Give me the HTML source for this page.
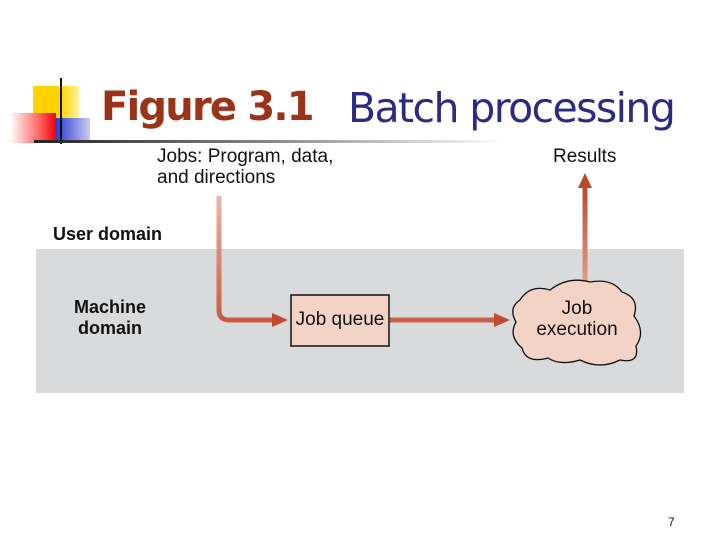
<!DOCTYPE html>
<html><head><meta charset="utf-8"><style>
body{margin:0;width:720px;height:540px;background:#fff;position:relative;overflow:hidden;font-family:"Liberation Sans",sans-serif}
.a{position:absolute}
</style></head><body>
<div class="a" style="left:33px;top:86px;width:46px;height:46px;background:linear-gradient(90deg,#ffd200 60%,#fff3a0)"></div>
<div class="a" style="left:56px;top:118px;width:34px;height:24px;background:linear-gradient(90deg,#2a3ad0,#c8ccf0)"></div>
<div class="a" style="left:10px;top:113px;width:46px;height:30px;background:linear-gradient(90deg,#fff,#f55 70%,#e00)"></div>
<div class="a" style="left:60px;top:78px;width:2px;height:66px;background:#111"></div>
<div class="a" style="left:34px;top:140px;width:470px;height:3px;background:linear-gradient(90deg,#222,#888 50%,#fff)"></div>
<div class="a" style="left:101px;top:84px;font:bold 40px 'DejaVu Sans',sans-serif;color:#9a3418;letter-spacing:-1.8px;white-space:nowrap">Figure 3.1</div>
<div class="a" style="left:348px;top:84px;font:41px 'DejaVu Sans',sans-serif;color:#2b2b86;letter-spacing:-1.6px;white-space:nowrap">Batch processing</div>
<div class="a" style="left:157px;top:146px;font:19px 'Liberation Sans',sans-serif;line-height:21px;color:#111">Jobs: Program, data,<br>and directions</div>
<div class="a" style="left:553px;top:146px;font:19px 'Liberation Sans',sans-serif;color:#111">Results</div>
<div class="a" style="left:53px;top:224px;font:bold 18px 'Liberation Sans',sans-serif;color:#111">User domain</div>
<div class="a" style="left:36px;top:249px;width:648px;height:144px;background:#d9dadc"></div>
<div class="a" style="left:60px;top:297px;width:100px;text-align:center;font:bold 18px 'Liberation Sans',sans-serif;line-height:21px;color:#111">Machine<br>domain</div>
<svg class="a" style="left:0;top:0" width="720" height="540">
<defs><linearGradient id="g1" gradientUnits="userSpaceOnUse" x1="0" y1="196" x2="0" y2="320"><stop offset="0" stop-color="#e8b8a8"/><stop offset="1" stop-color="#c85a40"/></linearGradient>
<linearGradient id="g2" gradientUnits="userSpaceOnUse" x1="0" y1="280" x2="0" y2="186"><stop offset="0" stop-color="#dc9c88"/><stop offset="1" stop-color="#b84a30"/></linearGradient></defs>
<path d="M219 196 V310 Q219 320 229 320 H275" fill="none" stroke="url(#g1)" stroke-width="5"/>
<path d="M272 313 L288 320 L272 327 Z" fill="#c24a30"/>
<path d="M390 320 H497" stroke="#c8604a" stroke-width="5"/>
<path d="M494 313 L510 320 L494 327 Z" fill="#c24a30"/>
<rect x="291" y="295" width="98" height="51" fill="#f3d3c6" stroke="#111" stroke-width="1.5"/>
<path d="M585 282 V186" stroke="url(#g2)" stroke-width="5"/>
<path d="M578 188 L585 173 L592 188 Z" fill="#b84a30"/>
<path d="M520 300 Q530 284 550 290 Q568 276 590 282 Q612 278 622 292 Q640 298 634 316 Q646 332 636 346 Q640 364 620 360 Q600 370 580 360 Q560 366 548 358 Q526 364 522 348 Q508 336 516 322 Q508 308 520 300 Z" fill="#f3d3c6" stroke="#111" stroke-width="1.3"/>
</svg>
<div class="a" style="left:291px;top:309px;width:98px;text-align:center;font:19px 'Liberation Sans',sans-serif;color:#111">Job queue</div>
<div class="a" style="left:520px;top:298px;width:114px;text-align:center;font:19px 'Liberation Sans',sans-serif;line-height:21px;color:#111">Job<br>execution</div>
<div class="a" style="left:668px;top:515px;font:12px 'Liberation Sans',sans-serif;color:#111">7</div>
</body></html>
